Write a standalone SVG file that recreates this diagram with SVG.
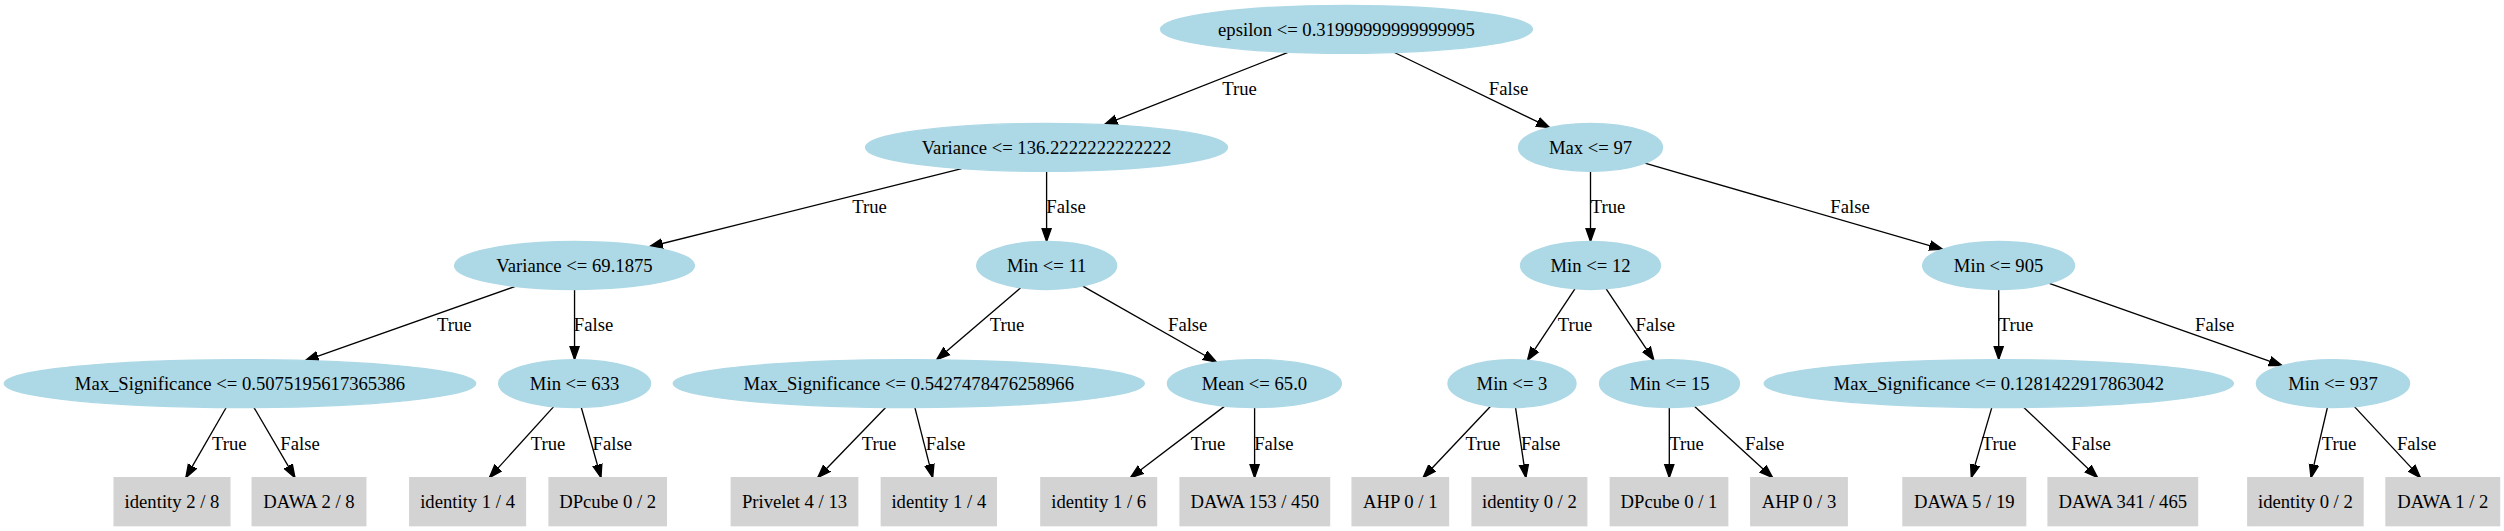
<svg xmlns="http://www.w3.org/2000/svg" width="2504" height="531" viewBox="0 0 2504 531">
<style>
text{font-family:"Liberation Serif","Times New Roman",serif;font-size:18.67px;fill:#000;text-anchor:middle}
.d ellipse{fill:#add8e6;stroke:#add8e6;stroke-width:1.33}
.l rect{fill:#d3d3d3;stroke:#d3d3d3;stroke-width:1.33}
#edges line{stroke:#000;stroke-width:1.33;marker-end:url(#ah)}
</style>
<defs>
<marker id="ah" markerUnits="userSpaceOnUse" markerWidth="16" markerHeight="12" refX="13.33" refY="0" viewBox="0 -6 16 12" orient="auto">
<path d="M0,-4.67 L13.33,0 L0,4.67 z" fill="#000" stroke="#000" stroke-width="1.33"/>
</marker>
</defs>
<rect width="2504" height="531" fill="#fff"/>
<g id="edges">
<line x1="1288.56" y1="52.14" x2="1104.29" y2="124.68"/>
<line x1="1394.42" y1="52.52" x2="1549.66" y2="127.65"/>
<line x1="961.73" y1="168.63" x2="649.43" y2="246.75"/>
<line x1="1046.6" y1="171.42" x2="1046.6" y2="241.5"/>
<line x1="1590.5" y1="171.42" x2="1590.5" y2="241.5"/>
<line x1="1644.87" y1="163.15" x2="1942.56" y2="249.29"/>
<line x1="515.35" y1="286.38" x2="305.32" y2="360.52"/>
<line x1="574.55" y1="289.5" x2="574.55" y2="359.58"/>
<line x1="1020.68" y1="287.78" x2="936.63" y2="359.75"/>
<line x1="1082.85" y1="286.05" x2="1216.42" y2="361.99"/>
<line x1="1574.94" y1="288.9" x2="1527.48" y2="360.29"/>
<line x1="1606.15" y1="288.89" x2="1653.85" y2="360.19"/>
<line x1="1998.7" y1="289.5" x2="1998.7" y2="359.58"/>
<line x1="2049.26" y1="283.39" x2="2282.16" y2="365.63"/>
<line x1="226.2" y1="407.54" x2="185.82" y2="477.67"/>
<line x1="254.0" y1="407.54" x2="294.98" y2="477.67"/>
<line x1="553.69" y1="406.65" x2="489.35" y2="477.67"/>
<line x1="581.3" y1="407.49" x2="600.97" y2="477.67"/>
<line x1="885.68" y1="407.46" x2="817.73" y2="477.67"/>
<line x1="914.9" y1="407.57" x2="932.7" y2="477.67"/>
<line x1="1224.66" y1="406.13" x2="1130.35" y2="477.67"/>
<line x1="1254.6" y1="407.58" x2="1254.6" y2="477.67"/>
<line x1="1490.6" y1="406.2" x2="1423.0" y2="477.67"/>
<line x1="1515.53" y1="407.54" x2="1525.86" y2="477.67"/>
<line x1="1669.3" y1="407.58" x2="1669.3" y2="477.67"/>
<line x1="1694.14" y1="406.04" x2="1772.68" y2="477.67"/>
<line x1="1991.79" y1="407.57" x2="1971.31" y2="477.67"/>
<line x1="2023.86" y1="407.44" x2="2097.6" y2="477.67"/>
<line x1="2327.41" y1="407.52" x2="2311.01" y2="477.67"/>
<line x1="2354.43" y1="406.62" x2="2420.48" y2="477.67"/>
<text x="1239.6" y="95.3">True</text>
<text x="1508.5" y="95.3">False</text>
<text x="869.5" y="213.3">True</text>
<text x="1066" y="213.3">False</text>
<text x="1608" y="213.3">True</text>
<text x="1850" y="213.3">False</text>
<text x="454.3" y="331.4">True</text>
<text x="593.5" y="331.4">False</text>
<text x="1007" y="331.4">True</text>
<text x="1187.7" y="331.4">False</text>
<text x="1575" y="331.4">True</text>
<text x="1655.3" y="331.4">False</text>
<text x="2016" y="331.4">True</text>
<text x="2214.7" y="331.4">False</text>
<text x="229.3" y="449.5">True</text>
<text x="300" y="449.5">False</text>
<text x="548" y="449.5">True</text>
<text x="612.3" y="449.5">False</text>
<text x="879" y="449.5">True</text>
<text x="945.5" y="449.5">False</text>
<text x="1208" y="449.5">True</text>
<text x="1273.9" y="449.5">False</text>
<text x="1482.9" y="449.5">True</text>
<text x="1540.6" y="449.5">False</text>
<text x="1686.5" y="449.5">True</text>
<text x="1764.7" y="449.5">False</text>
<text x="1999" y="449.5">True</text>
<text x="2091" y="449.5">False</text>
<text x="2339" y="449.5">True</text>
<text x="2416.6" y="449.5">False</text>
</g>
<g id="n0" class="d"><ellipse cx="1346.5" cy="29.33" rx="186" ry="24"/><text x="1346.5" y="35.5">epsilon &lt;= 0.31999999999999995</text></g>
<g id="n1" class="d"><ellipse cx="1046.5" cy="147.42" rx="181" ry="24"/><text x="1046.5" y="153.6">Variance &lt;= 136.2222222222222</text></g>
<g id="n8" class="d"><ellipse cx="1590.5" cy="147.42" rx="72" ry="24"/><text x="1590.5" y="153.6">Max &lt;= 97</text></g>
<g id="n2" class="d"><ellipse cx="574.5" cy="265.5" rx="120" ry="24"/><text x="574.5" y="271.7">Variance &lt;= 69.1875</text></g>
<g id="n5" class="d"><ellipse cx="1046.7" cy="265.5" rx="70" ry="24"/><text x="1046.7" y="271.7">Min &lt;= 11</text></g>
<g id="n9" class="d"><ellipse cx="1590.5" cy="265.5" rx="70" ry="24"/><text x="1590.5" y="271.7">Min &lt;= 12</text></g>
<g id="n12" class="d"><ellipse cx="1998.6" cy="265.5" rx="76" ry="24"/><text x="1998.6" y="271.7">Min &lt;= 905</text></g>
<g id="n3" class="d"><ellipse cx="240" cy="383.58" rx="235.7" ry="24"/><text x="240" y="389.8">Max_Significance &lt;= 0.5075195617365386</text></g>
<g id="n4" class="d"><ellipse cx="574.6" cy="383.58" rx="76" ry="24"/><text x="574.6" y="389.8">Min &lt;= 633</text></g>
<g id="n6" class="d"><ellipse cx="908.8" cy="383.58" rx="235.5" ry="24"/><text x="908.8" y="389.8">Max_Significance &lt;= 0.5427478476258966</text></g>
<g id="n7" class="d"><ellipse cx="1254.4" cy="383.58" rx="87" ry="24"/><text x="1254.4" y="389.8">Mean &lt;= 65.0</text></g>
<g id="n10" class="d"><ellipse cx="1512" cy="383.58" rx="64" ry="24"/><text x="1512" y="389.8">Min &lt;= 3</text></g>
<g id="n11" class="d"><ellipse cx="1669.5" cy="383.58" rx="70" ry="24"/><text x="1669.5" y="389.8">Min &lt;= 15</text></g>
<g id="n13" class="d"><ellipse cx="1998.8" cy="383.58" rx="234.6" ry="24"/><text x="1998.8" y="389.8">Max_Significance &lt;= 0.1281422917863042</text></g>
<g id="n14" class="d"><ellipse cx="2333" cy="383.58" rx="76.6" ry="24"/><text x="2333" y="389.8">Min &lt;= 937</text></g>
<g id="l1" class="l"><rect x="114.15" y="477.67" width="115.7" height="48"/><text x="172" y="507.9">identity 2 / 8</text></g>
<g id="l2" class="l"><rect x="252.2" y="477.67" width="113.6" height="48"/><text x="309" y="507.9">DAWA 2 / 8</text></g>
<g id="l3" class="l"><rect x="409.75" y="477.67" width="115.7" height="48"/><text x="467.6" y="507.9">identity 1 / 4</text></g>
<g id="l4" class="l"><rect x="549.05" y="477.67" width="117.3" height="48"/><text x="607.7" y="507.9">DPcube 0 / 2</text></g>
<g id="l5" class="l"><rect x="731.25" y="477.67" width="126.5" height="48"/><text x="794.5" y="507.9">Privelet 4 / 13</text></g>
<g id="l6" class="l"><rect x="881.3" y="477.67" width="115" height="48"/><text x="938.8" y="507.9">identity 1 / 4</text></g>
<g id="l7" class="l"><rect x="1040.85" y="477.67" width="115.7" height="48"/><text x="1098.7" y="507.9">identity 1 / 6</text></g>
<g id="l8" class="l"><rect x="1180.05" y="477.67" width="149.5" height="48"/><text x="1254.8" y="507.9">DAWA 153 / 450</text></g>
<g id="l9" class="l"><rect x="1352.1" y="477.67" width="96.4" height="48"/><text x="1400.3" y="507.9">AHP 0 / 1</text></g>
<g id="l10" class="l"><rect x="1472.05" y="477.67" width="114.7" height="48"/><text x="1529.4" y="507.9">identity 0 / 2</text></g>
<g id="l11" class="l"><rect x="1610.3" y="477.67" width="117.4" height="48"/><text x="1669" y="507.9">DPcube 0 / 1</text></g>
<g id="l12" class="l"><rect x="1750.8" y="477.67" width="96.4" height="48"/><text x="1799" y="507.9">AHP 0 / 3</text></g>
<g id="l13" class="l"><rect x="1902.95" y="477.67" width="122.7" height="48"/><text x="1964.3" y="507.9">DAWA 5 / 19</text></g>
<g id="l14" class="l"><rect x="2048.05" y="477.67" width="149.5" height="48"/><text x="2122.8" y="507.9">DAWA 341 / 465</text></g>
<g id="l15" class="l"><rect x="2247.8" y="477.67" width="115.2" height="48"/><text x="2305.4" y="507.9">identity 0 / 2</text></g>
<g id="l16" class="l"><rect x="2386" y="477.67" width="113.6" height="48"/><text x="2442.8" y="507.9">DAWA 1 / 2</text></g>
</svg>
